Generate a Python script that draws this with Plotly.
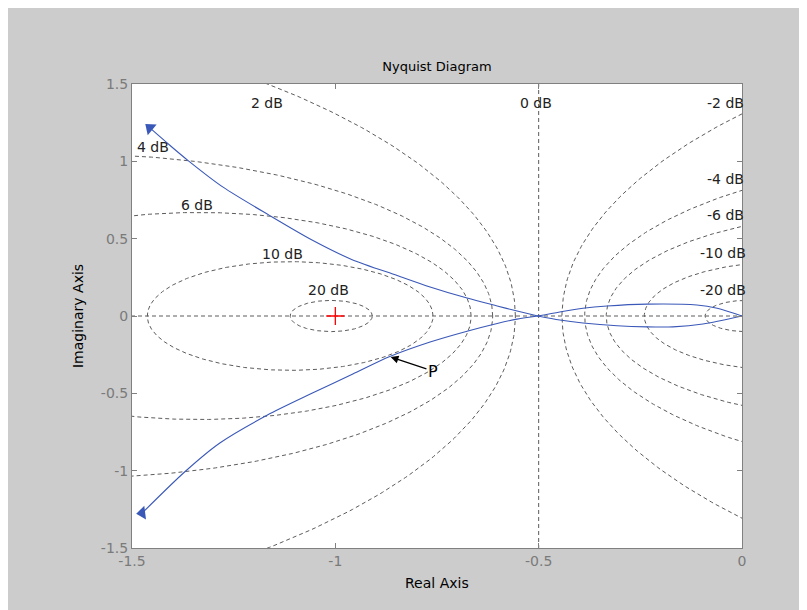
import numpy as np
import plotly.graph_objects as go

# ---- data ----
# M-circle grid levels (dB) and label positions (data coords)
grid_db = [20, 10, 6, 4, 2, 0, -2, -4, -6, -10, -20]
label_text = ["20 dB", "10 dB", "6 dB", "4 dB", "2 dB", "0 dB", "-2 dB", "-4 dB", "-6 dB", "-10 dB", "-20 dB"]
label_x = [-1.016, -1.129, -1.339, -1.449, -1.168, -0.507, -0.040, -0.040, -0.040, -0.046, -0.046]
label_y = [0.168, 0.400, 0.717, 1.092, 1.377, 1.377, 1.377, 0.885, 0.653, 0.407, 0.168]

# Nyquist curve, four pieces
upper_re = [-1.456, -1.407, -1.362, -1.276, -1.161, -1.055, -0.960, -0.848, -0.767, -0.676, -0.602, -0.553, -0.502]
upper_im = [1.216, 1.104, 1.005, 0.833, 0.649, 0.488, 0.366, 0.262, 0.188, 0.116, 0.065, 0.032, 0.0]
lower_re = [-1.475, -1.370, -1.284, -1.168, -1.055, -0.957, -0.866, -0.767, -0.676, -0.602, -0.553, -0.502]
lower_im = [-1.274, -1.007, -0.821, -0.642, -0.497, -0.375, -0.262, -0.168, -0.098, -0.048, -0.020, 0.0]
lens_up_re = [-0.502, -0.448, -0.391, -0.332, -0.234, -0.111, -0.061, 0.0]
lens_up_im = [0.0, 0.026, 0.050, 0.065, 0.077, 0.071, 0.050, 0.0]
lens_lo_re = [-0.502, -0.448, -0.391, -0.307, -0.234, -0.170, -0.096, 0.0]
lens_lo_im = [0.0, -0.026, -0.045, -0.063, -0.070, -0.070, -0.052, 0.0]

critical_pt = (-1.0, 0.0)
p_point = (-0.864, -0.265)
p_label_pos = (-0.760, -0.356)

x_ticks = [-1.5, -1.0, -0.5, 0.0]
x_ticktext = ["-1.5", "-1", "-0.5", "0"]
y_ticks = [-1.5, -1.0, -0.5, 0.0, 0.5, 1.0, 1.5]
y_ticktext = ["-1.5", "-1", "-0.5", "0", "0.5", "1", "1.5"]

# ---- figure ----
FONT = "DejaVu Sans, sans-serif"
GRID = dict(color="#5c5c5c", width=1, dash="4px,3px")
BLUE = "#3a58b8"

fig = go.Figure()

theta = np.linspace(0, 2 * np.pi, 721)
for db in grid_db:
    if db == 0:
        fig.add_trace(go.Scatter(x=[-0.5, -0.5], y=[-3, 3], mode="lines", line=GRID,
                                 hoverinfo="skip", showlegend=False))
        continue
    m = 10 ** (db / 20.0)
    c = -m * m / (m * m - 1)
    r = abs(m / (m * m - 1))
    fig.add_trace(go.Scatter(x=c + r * np.cos(theta), y=r * np.sin(theta), mode="lines",
                             line=GRID, hoverinfo="skip", showlegend=False))

# real axis
fig.add_trace(go.Scatter(x=[-3, 1], y=[0, 0], mode="lines", line=GRID,
                         hoverinfo="skip", showlegend=False))

for xs, ys in [(upper_re, upper_im), (lower_re, lower_im),
               (lens_up_re, lens_up_im), (lens_lo_re, lens_lo_im)]:
    fig.add_trace(go.Scatter(x=xs, y=ys, mode="lines",
                             line=dict(color=BLUE, width=1.1, shape="spline", smoothing=0.8),
                             showlegend=False))

# arrowheads at the branch ends
fig.add_trace(go.Scatter(x=[upper_re[0]], y=[upper_im[0]], mode="markers",
                         marker=dict(symbol="triangle-up", size=12, color=BLUE,
                                     angle=-50, line=dict(width=0)),
                         showlegend=False))
fig.add_trace(go.Scatter(x=[lower_re[0]], y=[lower_im[0]], mode="markers",
                         marker=dict(symbol="triangle-up", size=12, color=BLUE,
                                     angle=-97, line=dict(width=0)),
                         showlegend=False))

# critical point
fig.add_trace(go.Scatter(x=[critical_pt[0]], y=[critical_pt[1]], mode="markers",
                         marker=dict(symbol="cross-thin", size=13,
                                     line=dict(color="#ff0000", width=1.3)),
                         showlegend=False))

annotations = []
for t, lx, ly in zip(label_text, label_x, label_y):
    annotations.append(dict(x=lx, y=ly, xref="x", yref="y", text=t, showarrow=False,
                            font=dict(family=FONT, size=14, color="#222222")))

annotations.append(dict(x=p_point[0], y=p_point[1], xref="x", yref="y",
                        ax=p_label_pos[0], ay=p_label_pos[1], axref="x", ayref="y",
                        text="P", showarrow=True, arrowhead=2, arrowsize=1.3,
                        arrowwidth=1.2, arrowcolor="#000000",
                        font=dict(family=FONT, size=16, color="#000000")))

annotations.append(dict(x=0.5, y=-0.076, xref="paper", yref="paper", text="Real Axis",
                        showarrow=False, yanchor="middle",
                        font=dict(family=FONT, size=14, color="#000000")))
annotations.append(dict(x=-0.0885, y=0.5, xref="paper", yref="paper", text="Imaginary Axis",
                        showarrow=False, textangle=-90, xanchor="center",
                        font=dict(family=FONT, size=14, color="#000000")))

fig.update_layout(
    width=799, height=602,
    margin=dict(l=124, r=65, t=76, b=62),
    paper_bgcolor="#cccccc", plot_bgcolor="#ffffff",
    title=dict(text="Nyquist Diagram", x=429 / 799, xanchor="center",
               y=1 - 58 / 602, yanchor="middle", yref="container",
               font=dict(family=FONT, size=13, color="#000000")),
    annotations=annotations,
    showlegend=False,
    xaxis=dict(range=[-1.5, 0], tickvals=x_ticks, ticktext=x_ticktext,
               ticks="inside", ticklen=5, tickcolor="#808080",
               showline=True, linecolor="#808080", linewidth=1, mirror="ticks",
               showgrid=False, zeroline=False,
               tickfont=dict(family=FONT, size=14, color="#7a7a7a")),
    yaxis=dict(range=[-1.5, 1.5], tickvals=y_ticks, ticktext=y_ticktext,
               ticks="inside", ticklen=5, tickcolor="#808080",
               showline=True, linecolor="#808080", linewidth=1, mirror="ticks",
               showgrid=False, zeroline=False,
               tickfont=dict(family=FONT, size=14, color="#7a7a7a")),
)

fig.write_html("out.html", config={"displayModeBar": False})
